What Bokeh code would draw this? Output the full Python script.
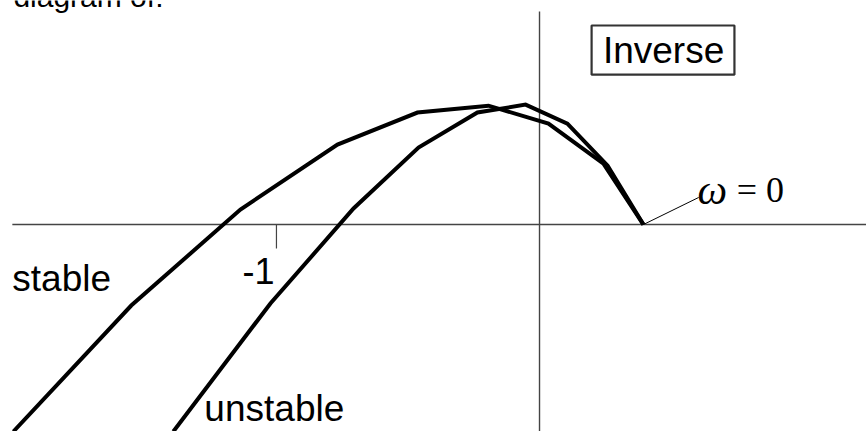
from bokeh.plotting import figure
from bokeh.models import Range1d
from bokeh.core.properties import value
from bokeh.embed import file_html
from bokeh.resources import INLINE

# Inverse Nyquist loci (real part, imaginary part), from high frequency up to omega = 0
stable_re = [-2.000, -1.552, -1.137, -0.768, -0.464, -0.194, 0.034, 0.243, 0.395]
stable_im = [-0.787, -0.308, 0.057, 0.304, 0.426, 0.452, 0.384, 0.232, 0.0]

unstable_re = [-1.392, -1.023, -0.707, -0.460, -0.236, -0.053, 0.106, 0.259, 0.395]
unstable_im = [-0.787, -0.300, 0.061, 0.293, 0.426, 0.456, 0.384, 0.224, 0.0]

# critical point on the real axis
critical_re = [-1.0]

SANS = value("Liberation Sans")
SERIF = value("Liberation Serif")

p = figure(width=866, height=431, output_backend="svg", toolbar_location=None,
           x_range=Range1d(-2.049, 1.243), y_range=Range1d(-0.787, 0.852),
           min_border=0, outline_line_color=None, background_fill_color="white")
p.axis.visible = False
p.grid.visible = False

# real and imaginary axes
p.segment(x0=[-2.004], y0=[0.0], x1=[1.243], y1=[0.0], line_color="#444444", line_width=1.4)
p.segment(x0=[0.0], y0=[0.810], x1=[0.0], y1=[-0.787], line_color="#444444", line_width=1.4)

# tick mark at -1
p.segment(x0=critical_re, y0=[0.0], x1=critical_re, y1=[-0.091], line_color="#444444", line_width=1.2)
p.text(x=[-1.129], y=[-0.175], text=["-1"], text_font=SANS, text_font_size="36px",
       text_baseline="alphabetic", text_align="left", text_color="black")

# the two loci
p.line(stable_re, stable_im, line_color="black", line_width=4.0, line_join="miter")
p.line(unstable_re, unstable_im, line_color="black", line_width=4.0, line_join="miter")

# labels
p.text(x=[-2.004, -1.274], y=[-0.205, -0.699], text=["stable", "unstable"], text_font=SANS,
       text_font_size="37px", text_baseline="alphabetic", text_align="left", text_color="black")

# boxed title
p.quad(left=[0.198], right=[0.741], top=[0.757], bottom=[0.570],
       fill_color="white", line_color="#333333", line_width=2.2)
p.text(x=[0.241], y=[0.662], text=["Inverse"], text_font=SANS, text_font_size="37px",
       text_baseline="alphabetic", text_align="left", text_color="black")

# omega = 0 annotation with leader line
p.segment(x0=[stable_re[-1]], y0=[stable_im[-1]], x1=[0.605], y1=[0.103], line_color="black", line_width=1.0)
p.text(x=[0.601], y=[0.133], text=["ω"], text_font=SERIF, text_font_style="italic",
       text_font_size="42px", text_baseline="alphabetic", text_align="left", text_color="black")
p.text(x=[0.750], y=[0.133], text=["= 0"], text_font=SERIF,
       text_font_size="36px", text_baseline="alphabetic", text_align="left", text_color="black")

# caption line running in from above
p.text(x=[-2.0], y=[0.868], text=["diagram of:"], text_font=SANS, text_font_size="30px",
       text_baseline="alphabetic", text_align="left", text_color="black")

open("out.html", "w").write(file_html(p, INLINE))
